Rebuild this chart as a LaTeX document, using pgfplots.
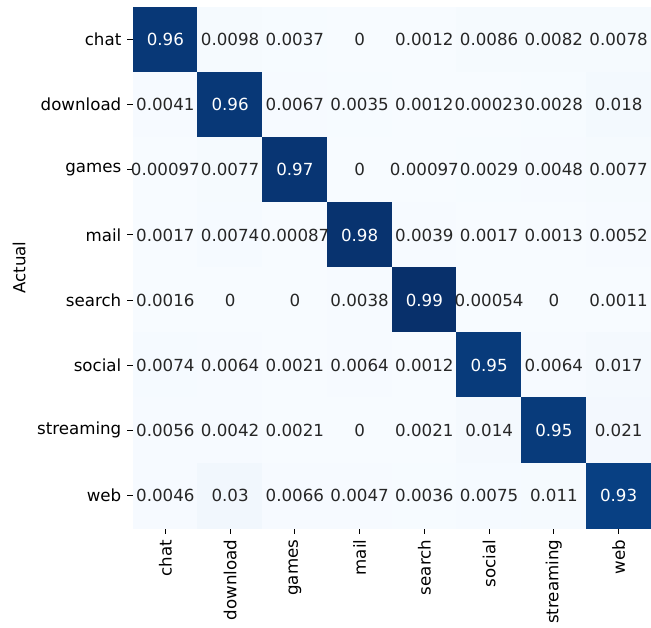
\documentclass[border=0pt]{standalone}
\usepackage{pgfplots}
\pgfplotsset{compat=1.18}
\usepackage{pgfplotstable}
\usepackage{fontspec}
\setmainfont{DejaVu Sans}
\usetikzlibrary{calc}
\definecolor{txtgray}{HTML}{262626}

% x = predicted (column), y = actual (row), lab = value as printed
\pgfplotstableread{
x y lab
1 0 0.0098
2 0 0.0037
3 0 0
4 0 0.0012
5 0 0.0086
6 0 0.0082
7 0 0.0078
0 1 0.0041
2 1 0.0067
3 1 0.0035
4 1 0.0012
5 1 0.00023
6 1 0.0028
7 1 0.018
0 2 0.00097
1 2 0.0077
3 2 0
4 2 0.00097
5 2 0.0029
6 2 0.0048
7 2 0.0077
0 3 0.0017
1 3 0.0074
2 3 0.00087
4 3 0.0039
5 3 0.0017
6 3 0.0013
7 3 0.0052
0 4 0.0016
1 4 0
2 4 0
3 4 0.0038
5 4 0.00054
6 4 0
7 4 0.0011
0 5 0.0074
1 5 0.0064
2 5 0.0021
3 5 0.0064
4 5 0.0012
6 5 0.0064
7 5 0.017
0 6 0.0056
1 6 0.0042
2 6 0.0021
3 6 0
4 6 0.0021
5 6 0.014
7 6 0.021
0 7 0.0046
1 7 0.03
2 7 0.0066
3 7 0.0047
4 7 0.0036
5 7 0.0075
6 7 0.011
}\offd

\pgfplotstableread{
x y lab
0 0 0.96
1 1 0.96
2 2 0.97
3 3 0.98
4 4 0.99
5 5 0.95
6 6 0.95
7 7 0.93
}\diag

% full matrix for the colours
\pgfplotstableread{
x y v
0 0 0.96
1 0 0.0098
2 0 0.0037
3 0 0
4 0 0.0012
5 0 0.0086
6 0 0.0082
7 0 0.0078
0 1 0.0041
1 1 0.96
2 1 0.0067
3 1 0.0035
4 1 0.0012
5 1 0.00023
6 1 0.0028
7 1 0.018
0 2 0.00097
1 2 0.0077
2 2 0.97
3 2 0
4 2 0.00097
5 2 0.0029
6 2 0.0048
7 2 0.0077
0 3 0.0017
1 3 0.0074
2 3 0.00087
3 3 0.98
4 3 0.0039
5 3 0.0017
6 3 0.0013
7 3 0.0052
0 4 0.0016
1 4 0
2 4 0
3 4 0.0038
4 4 0.99
5 4 0.00054
6 4 0
7 4 0.0011
0 5 0.0074
1 5 0.0064
2 5 0.0021
3 5 0.0064
4 5 0.0012
5 5 0.95
6 5 0.0064
7 5 0.017
0 6 0.0056
1 6 0.0042
2 6 0.0021
3 6 0
4 6 0.0021
5 6 0.014
6 6 0.95
7 6 0.021
0 7 0.0046
1 7 0.03
2 7 0.0066
3 7 0.0047
4 7 0.0036
5 7 0.0075
6 7 0.011
7 7 0.93
}\cm

\begin{document}
\begin{tikzpicture}
\begin{axis}[
  name=ax,
  scale only axis,
  width=310.8pt, height=312.6pt,
  xmin=-0.5, xmax=7.5, ymin=-0.5, ymax=7.5,
  y dir=reverse,
  axis line style={draw=none},
  tick align=outside,
  major tick length=3.5pt,
  tick style={black, line width=0.6pt},
  xtick pos=bottom, ytick pos=left,
  xtick={0,...,7}, ytick={0,...,7},
  xticklabels={chat,download,games,mail,search,social,streaming,web},
  yticklabels={chat,download,games,mail,search,social,streaming,web},
  xticklabel style={rotate=90, anchor=east},
  ticklabel style={font=\fontsize{10}{12}\selectfont, text=black},
  ylabel={Actual},
  ylabel style={font=\fontsize{10}{12}\selectfont},
  colormap={blues}{rgb255=(247,251,255) rgb255=(222,235,247) rgb255=(198,219,239) rgb255=(158,202,225) rgb255=(107,174,214) rgb255=(66,146,198) rgb255=(33,113,181) rgb255=(8,81,156) rgb255=(8,48,107)},
  clip=false,
]
\addplot[matrix plot*, mesh/cols=8, point meta=explicit, point meta min=0, point meta max=0.99, draw=none] table[x=x, y=y, meta=v] {\cm};
\addplot[draw=none, only marks, mark=none,
  point meta=explicit symbolic,
  nodes near coords,
  nodes near coords style={anchor=center, inner sep=0pt, text=txtgray, font=\fontsize{10}{12}\selectfont},
] table[x=x, y=y, meta=lab] {\offd};
\addplot[draw=none, only marks, mark=none,
  point meta=explicit symbolic,
  nodes near coords,
  nodes near coords style={anchor=center, inner sep=0pt, text=white, font=\fontsize{10}{12}\selectfont},
] table[x=x, y=y, meta=lab] {\diag};
\end{axis}
\pgfresetboundingbox
\path ($(ax.south west)+(-79.8pt,-59.4pt)$) rectangle ($(ax.north east)+(0pt,4.2pt)$);
\end{tikzpicture}
\end{document}
